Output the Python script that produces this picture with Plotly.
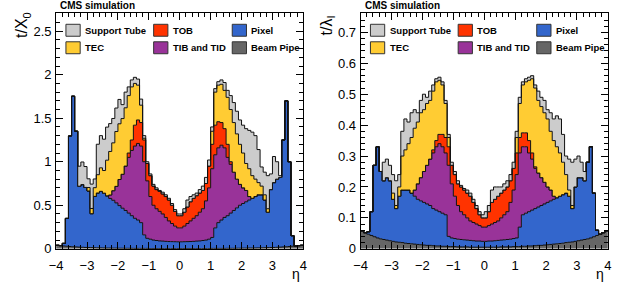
import numpy as np
import plotly.graph_objects as go

W, H = 621, 283

# ---------------- data ----------------
eta_edges = [round(-4.0 + 0.1 * k, 1) for k in range(81)]

# material budget in units of radiation length  t/X0  (per 0.1 eta bin, per sub-detector)
x0_beam_pipe = [.040, .036, .032, .029, .026, .023, .021, .019, .017, .015,
                .014, .013, .012, .011, .010, .009, .008, .008, .007, .007,
                .006, .006, .005, .005, .005, .004, .004, .004, .004, .004,
                .003, .003, .003, .003, .003, .003, .003, .003, .003, .003,
                .003, .003, .003, .003, .003, .003, .003, .003, .003, .003,
                .004, .004, .004, .004, .004, .005, .005, .005, .006, .006,
                .007, .007, .008, .008, .009, .010, .011, .012, .013, .014,
                .015, .017, .019, .021, .023, .026, .029, .032, .036, .040]
x0_pixel = [0, 0, .03, .32, 1.27, 1.73, 1.33, .70, .72, .69,
            .65, .39, .59, .63, .65, .63, .60, .57, .55, .52,
            .49, .46, .435, .405, .375, .346, .326, .296, .156, .116,
            .107, .097, .092, .087, .085, .082, .080, .079, .078, .077,
            .077, .078, .079, .080, .082, .085, .087, .092, .097, .107,
            .126, .236, .296, .326, .356, .375, .405, .435, .464, .494,
            .513, .533, .552, .572, .591, .61, .609, .548, .407, .666,
            .745, .783, .801, 1.229, 1.677, .974, .121, 0, 0, 0]
x0_tib_tid = [0, 0, 0, 0, 0, 0, 0, 0, 0, 0,
              0, 0, 0, 0, 0, 0, 0, .04, .11, .19,
              .30, .39, .51, .64, .75, .83, .88, .88, .84, .66,
              .49, .40, .365, .34, .312, .275, .237, .208, .179, .16,
              .16, .179, .208, .237, .265, .292, .33, .365, .45, .59,
              .79, .84, .86, .86, .80, .67, .56, .44, .33, .24,
              .18, .13, .04, 0, 0, 0, 0, 0, 0, 0,
              0, 0, 0, 0, 0, 0, 0, 0, 0, 0]
x0_tob = [0, 0, 0, 0, 0, 0, 0, 0, 0, 0,
          0, 0, 0, 0, 0, 0, 0, 0, 0, 0,
          0, 0, 0, .05, .12, .24, .27, .27, .25, .20,
          .24, .22, .22, .23, .23, .24, .24, .21, .17, .14,
          .14, .16, .19, .22, .23, .23, .22, .21, .20, .25,
          .28, .34, .30, .26, .22, .15, .03, 0, 0, 0,
          0, 0, 0, 0, 0, 0, 0, 0, 0, 0,
          0, 0, 0, 0, 0, 0, 0, 0, 0, 0]
x0_tec = [0, 0, 0, 0, 0, 0, 0, 0, 0, 0,
          .04, .06, .10, .21, .27, .26, .41, .50, .55, .63,
          .64, .64, .67, .66, .61, .48, .40, .20, .02, 0,
          0, 0, 0, 0, 0, 0, 0, 0, 0, 0,
          0, 0, 0, 0, 0, 0, 0, 0, 0, 0,
          .15, .38, .42, .44, .44, .54, .60, .57, .52, .46,
          .40, .31, .32, .26, .20, .14, .10, .06, .04, 0,
          0, 0, 0, 0, 0, 0, 0, 0, 0, 0]
x0_support_tube = [0, 0, 0, 0, 0, 0, 0, .23, .26, .24,
                   .10, .28, .10, .35, .37, .36, .38, .32, .28, .27,
                   .28, .16, .18, .10, .08, .07, .07, .07, .03, .02,
                   .02, .02, .02, .01, .02, .02, .02, .02, .02, .02,
                   .02, .04, .08, .06, .04, .03, .04, .05, .07, .07,
                   .05, .04, .04, .05, .09, .08, .16, .23, .26, .28,
                   .32, .40, .44, .50, .50, .38, .22, .26, .38, .18,
                   .30, .20, .02, 0, 0, 0, 0, 0, 0, 0]

# material budget in units of nuclear interaction length  t/lambda_I
li_beam_pipe = [.058, .052, .047, .043, .039, .035, .032, .030, .028, .026,
                .024, .022, .021, .020, .018, .017, .016, .015, .014, .013,
                .012, .011, .011, .010, .009, .009, .008, .008, .007, .007,
                .007, .006, .006, .006, .006, .005, .005, .005, .005, .005,
                .005, .005, .005, .005, .005, .006, .006, .006, .006, .007,
                .007, .007, .008, .008, .009, .009, .010, .011, .011, .012,
                .013, .014, .015, .016, .017, .018, .020, .021, .022, .024,
                .026, .028, .030, .032, .035, .039, .043, .047, .052, .058]
li_pixel = [0, 0, .008, .077, .231, .295, .218, .19, .202, .194,
            .136, .108, .149, .17, .172, .173, .164, .155, .146, .142,
            .138, .134, .129, .12, .116, .111, .107, .102, .033, .028,
            .026, .025, .024, .023, .022, .022, .021, .020, .020, .019,
            .019, .020, .020, .021, .022, .022, .023, .024, .025, .026,
            .028, .063, .102, .107, .111, .116, .12, .124, .129, .133,
            .137, .141, .145, .149, .153, .157, .16, .149, .108, .176,
            .204, .202, .19, .248, .295, .141, .017, 0, 0, 0]
li_tib_tid = [0, 0, 0, 0, 0, 0, 0, 0, 0, 0,
              0, 0, 0, 0, 0, 0, 0, .02, .05, .075,
              .10, .125, .15, .18, .205, .22, .215, .20, .23, .175,
              .137, .109, .09, .081, .072, .063, .059, .055, .05, .046,
              .046, .05, .055, .059, .063, .072, .081, .09, .119, .157,
              .205, .24, .22, .215, .19, .165, .13, .11, .09, .07,
              .05, .035, .01, 0, 0, 0, 0, 0, 0, 0,
              0, 0, 0, 0, 0, 0, 0, 0, 0, 0]
li_tob = [0, 0, 0, 0, 0, 0, 0, 0, 0, 0,
          0, 0, 0, 0, 0, 0, 0, 0, 0, 0,
          0, 0, 0, .01, .02, .03, .04, .05, .06, .06,
          .07, .07, .08, .08, .08, .08, .065, .05, .035, .03,
          .03, .045, .07, .075, .08, .08, .08, .08, .07, .07,
          .07, .05, .045, .045, .04, .02, .005, 0, 0, 0,
          0, 0, 0, 0, 0, 0, 0, 0, 0, 0,
          0, 0, 0, 0, 0, 0, 0, 0, 0, 0]
li_tec = [0, 0, 0, 0, 0, 0, 0, 0, 0, 0,
          .02, .01, .03, .11, .13, .15, .18, .20, .20, .21,
          .20, .20, .19, .19, .19, .175, .16, .11, .03, 0,
          0, 0, 0, 0, 0, 0, 0, 0, 0, 0,
          0, 0, 0, 0, 0, 0, 0, 0, 0, 0,
          .05, .11, .155, .165, .195, .24, .255, .235, .23, .225,
          .22, .19, .18, .165, .14, .105, .06, .02, .01, 0,
          0, 0, 0, 0, 0, 0, 0, 0, 0, 0]
li_support_tube = [0, 0, 0, 0, 0, 0, 0, .06, .06, .05,
                   .06, .08, .04, .08, .10, .07, .08, .06, .03, .04,
                   .05, .02, .03, .02, .01, .01, .01, .01, .01, .01,
                   .01, .01, .005, .005, .01, .01, .01, .01, .01, .01,
                   .02, .02, .04, .04, .03, .02, .02, .02, .02, .02,
                   .02, .02, .01, .01, .01, .01, .01, .03, .03, .04,
                   .03, .06, .07, .10, .11, .09, .06, .10, .14, .09,
                   .07, .05, .03, 0, 0, 0, 0, 0, 0, 0]

layer_names = ["Beam Pipe", "Pixel", "TIB and TID", "TOB", "TEC", "Support Tube"]
layer_colors = ["#666666", "#3366cc", "#993399", "#ff3300", "#ffcc33", "#cccccc"]

panels = [
    dict(layers=[x0_beam_pipe, x0_pixel, x0_tib_tid, x0_tob, x0_tec, x0_support_tube],
         xa="x", ya="y", ytitle="t/X<sub>0</sub>", off=0),
    dict(layers=[li_beam_pipe, li_pixel, li_tib_tid, li_tob, li_tec, li_support_tube],
         xa="x2", ya="y2", ytitle="t/λ<sub>I</sub>", off=310),
]

fig = go.Figure()


def px(x):
    return x / W


def py(y):
    return 1 - y / H


for p in panels:
    cum = np.cumsum(np.array(p["layers"], dtype=float), axis=0)
    for k, name in enumerate(layer_names):
        yv = list(cum[k]) + [cum[k][-1]]
        fig.add_trace(go.Scatter(
            x=eta_edges, y=yv, mode="lines", name=name,
            line=dict(color="#111111", width=1, shape="hv"),
            fill="tozeroy" if k == 0 else "tonexty",
            fillcolor=layer_colors[k],
            xaxis=p["xa"], yaxis=p["ya"], showlegend=False, hoverinfo="skip"))

font_tick = dict(family="Liberation Sans, Arial, sans-serif", size=13, color="black")
axis_common = dict(showline=True, linecolor="black", linewidth=1, mirror="allticks",
                   ticks="inside", tickcolor="black", ticklen=7, showgrid=False,
                   zeroline=False, tickfont=font_tick)

fig.update_layout(
    width=W, height=H, margin=dict(l=0, r=0, t=0, b=0),
    paper_bgcolor="white", plot_bgcolor="white",
    xaxis=dict(domain=[px(50), px(301.7)], range=[-4, 4], dtick=1, anchor="y",
               ticklabelstandoff=5,
               minor=dict(dtick=0.2, ticks="inside", ticklen=4, tickcolor="black"),
               **axis_common),
    yaxis=dict(domain=[py(256), py(13.3)], range=[0, 2.71], dtick=0.5, anchor="x",
               ticklabelstandoff=1,
               minor=dict(dtick=0.1, ticks="inside", ticklen=4, tickcolor="black"),
               **axis_common),
    xaxis2=dict(domain=[px(360), px(611.7)], range=[-4, 4], dtick=1, anchor="y2",
                ticklabelstandoff=5,
                minor=dict(dtick=0.2, ticks="inside", ticklen=4, tickcolor="black"),
                **axis_common),
    yaxis2=dict(domain=[py(256), py(13.3)], range=[0, 0.763], dtick=0.1, anchor="x2",
                ticklabelstandoff=1,
                minor=dict(dtick=0.02, ticks="inside", ticklen=4, tickcolor="black"),
                **axis_common),
)

legend_layout = [  # (name index, column x of box, row y of box)
    (5, 60, 25), (3, 149.3, 25), (1, 229.3, 25),
    (4, 60, 43), (2, 149.3, 43), (0, 229.3, 43),
]

shapes = []
annotations = []
lfont = dict(family="Liberation Sans, Arial, sans-serif", size=9.5, color="black")
for p in panels:
    o = p["off"]
    for idx, bx, by in legend_layout:
        shapes.append(dict(type="rect", xref="paper", yref="paper",
                           x0=px(bx + o), x1=px(bx + o + 14.5),
                           y0=py(by + 12.3), y1=py(by),
                           fillcolor=layer_colors[idx], line=dict(color="#333333", width=1)))
        annotations.append(dict(x=px(bx + o + 17.5), y=py(by + 6.2), xref="paper", yref="paper",
                                text="<b>%s</b>" % layer_names[idx], showarrow=False,
                                xanchor="left", yanchor="middle", font=lfont))
    annotations.append(dict(x=px(52 + o), y=py(6), xref="paper", yref="paper",
                            text="<b>CMS simulation</b>", showarrow=False,
                            xanchor="left", yanchor="middle",
                            font=dict(family="Liberation Sans, Arial, sans-serif", size=10, color="black")))
    annotations.append(dict(x=px(16 + o), y=py(26), xref="paper", yref="paper",
                            text=p["ytitle"], showarrow=False, textangle=-90,
                            xanchor="center", yanchor="middle",
                            font=dict(family="Liberation Sans, Arial, sans-serif", size=16, color="black")))
    annotations.append(dict(x=px(294 + o), y=py(272), xref="paper", yref="paper",
                            text="η", showarrow=False, xanchor="center", yanchor="top",
                            font=dict(family="Liberation Sans, Arial, sans-serif", size=14, color="black")))

fig.update_layout(shapes=shapes, annotations=annotations)
fig.write_html("out.html")
